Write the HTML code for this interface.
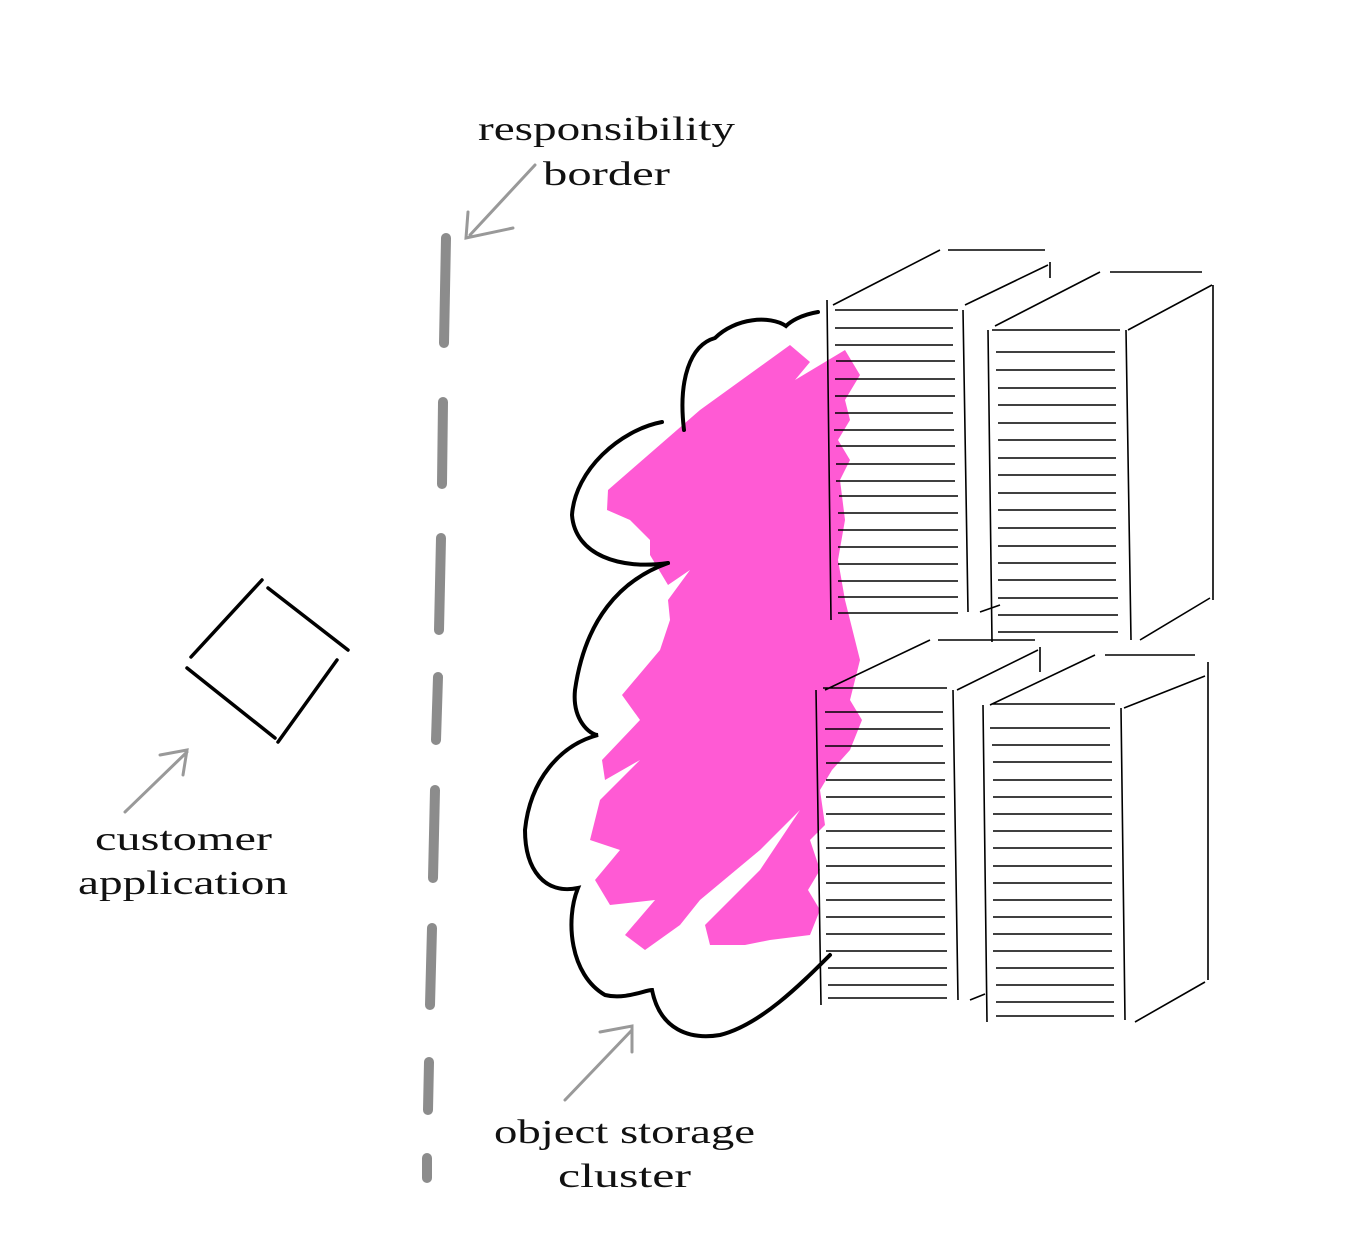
<!DOCTYPE html>
<html><head><meta charset="utf-8"><style>
html,body{margin:0;padding:0;background:#fff;}
svg{display:block;}
text{font-family:"Liberation Serif",serif;font-size:34px;fill:#111;}
</style></head><body>
<svg width="1352" height="1233" viewBox="0 0 1352 1233" xmlns="http://www.w3.org/2000/svg">
<rect width="1352" height="1233" fill="#fff"/>
<!-- pink blob -->
<polygon fill="#ff5ad4" points="608,490 700,410 790,345 810,362 795,380 845,350 860,375 845,400 850,420 838,440 850,460 840,480 845,520 838,560 845,600 855,640 860,660 850,700 862,720 850,750 832,770 820,790 825,825 810,840 820,870 808,890 820,910 810,935 770,940 745,945 710,945 705,925 760,870 800,810 760,850 700,900 680,925 645,950 625,935 655,900 610,905 595,880 620,850 590,840 600,800 640,760 605,780 602,760 640,720 622,695 660,650 670,620 668,600 690,570 668,585 650,555 650,540 630,520 607,510"/>
<!-- cloud outline -->
<g fill="none" stroke="#000" stroke-width="4" stroke-linecap="round">
<path d="M818,312 C800,315 790,322 786,326 C770,315 735,318 715,338 C690,345 678,380 684,430"/>
<path d="M662,422 C620,430 575,470 572,515 C575,555 620,570 668,563"/>
<path d="M668,563 C620,580 585,620 575,690 C572,720 590,735 598,735 C560,745 530,780 525,830 C525,870 545,895 578,888 C565,920 570,975 605,995 C625,1000 645,990 652,990 C660,1030 690,1040 720,1035 C760,1025 800,985 830,955"/>
</g>
<!-- responsibility border -->
<g stroke="#8c8c8c" stroke-width="10" stroke-linecap="round" fill="none">
<line x1="446" y1="238" x2="444" y2="343"/>
<line x1="443" y1="402" x2="442" y2="484"/>
<line x1="441" y1="538" x2="439" y2="630"/>
<line x1="438" y1="677" x2="436" y2="740"/>
<line x1="435" y1="790" x2="433" y2="878"/>
<line x1="432" y1="928" x2="430" y2="1005"/>
<line x1="429" y1="1062" x2="428" y2="1110"/>
<line x1="427" y1="1158" x2="427" y2="1178"/>
</g>
<!-- gray arrows -->
<g stroke="#999" stroke-width="3" fill="none" stroke-linecap="round">
<path d="M535,165 L470,235 M468,212 L466,238 L513,228"/>
<path d="M125,812 L187,752 M160,755 L187,750 L183,775"/>
<path d="M565,1100 L632,1030 M600,1032 L632,1026 L632,1052"/>
</g>
<!-- diamond -->
<g stroke="#000" stroke-width="3.5" stroke-linecap="round">
<line x1="262" y1="580" x2="191" y2="657"/>
<line x1="268" y1="588" x2="348" y2="650"/>
<line x1="187" y1="668" x2="275" y2="738"/>
<line x1="337" y1="660" x2="278" y2="742"/>
</g>
<!-- servers -->
<g stroke="#000" stroke-width="1.6" fill="none">
<!-- TL -->
<path d="M833,305 L940,250 M948,250 L1045,250 M1050,262 L1050,278 M965,305 L1048,265 M835,310 L958,310 M827,300 L831,620 M963,310 L968,612 M980,612 L1000,605"/>
<!-- TR -->
<path d="M995,326 L1100,272 M1110,272 L1202,272 M1128,330 L1212,285 M1213,285 L1213,600 M1140,640 L1210,598 M992,330 L1120,330 M988,330 L992,642 M1126,330 L1131,640"/>
<!-- BL -->
<path d="M825,690 L930,640 M938,640 L1035,640 M1040,647 L1040,672 M957,690 L1038,650 M823,688 L947,688 M816,690 L821,1005 M953,690 L958,1000 M970,1000 L985,994"/>
<!-- BR -->
<path d="M990,705 L1095,655 M1105,655 L1195,655 M1124,708 L1205,676 M1208,662 L1208,980 M1135,1022 L1205,982 M992,704 L1115,704 M983,705 L987,1022 M1121,708 L1125,1020"/>
</g>
<g stroke="#000" stroke-width="1.5">
<!-- TL lines -->
<line x1="835" y1="328" x2="953" y2="328"/><line x1="835" y1="345" x2="953" y2="345"/><line x1="836" y1="361" x2="955" y2="361"/>
<line x1="835" y1="379" x2="955" y2="379"/><line x1="835" y1="396" x2="955" y2="396"/><line x1="835" y1="413" x2="953" y2="413"/>
<line x1="834" y1="430" x2="954" y2="430"/><line x1="836" y1="446" x2="955" y2="446"/><line x1="836" y1="464" x2="955" y2="464"/>
<line x1="836" y1="481" x2="955" y2="481"/><line x1="839" y1="496" x2="958" y2="496"/><line x1="838" y1="513" x2="958" y2="513"/>
<line x1="838" y1="530" x2="958" y2="530"/><line x1="838" y1="547" x2="958" y2="547"/><line x1="838" y1="564" x2="958" y2="564"/>
<line x1="838" y1="581" x2="958" y2="581"/><line x1="838" y1="597" x2="958" y2="597"/><line x1="838" y1="613" x2="958" y2="613"/>
<!-- TR lines -->
<line x1="996" y1="352" x2="1115" y2="352"/><line x1="996" y1="370" x2="1115" y2="370"/><line x1="998" y1="388" x2="1116" y2="388"/>
<line x1="998" y1="405" x2="1116" y2="405"/><line x1="998" y1="423" x2="1116" y2="423"/><line x1="998" y1="440" x2="1116" y2="440"/>
<line x1="998" y1="458" x2="1116" y2="458"/><line x1="998" y1="475" x2="1116" y2="475"/><line x1="998" y1="493" x2="1116" y2="493"/>
<line x1="998" y1="510" x2="1116" y2="510"/><line x1="998" y1="528" x2="1116" y2="528"/><line x1="998" y1="546" x2="1116" y2="546"/>
<line x1="998" y1="563" x2="1116" y2="563"/><line x1="998" y1="580" x2="1116" y2="580"/><line x1="998" y1="598" x2="1118" y2="598"/>
<line x1="998" y1="615" x2="1118" y2="615"/><line x1="998" y1="632" x2="1118" y2="632"/>
<!-- BL lines -->
<line x1="825" y1="712" x2="943" y2="712"/><line x1="825" y1="729" x2="943" y2="729"/><line x1="825" y1="746" x2="943" y2="746"/>
<line x1="826" y1="763" x2="945" y2="763"/><line x1="826" y1="780" x2="945" y2="780"/><line x1="826" y1="797" x2="945" y2="797"/>
<line x1="826" y1="814" x2="945" y2="814"/><line x1="826" y1="831" x2="945" y2="831"/><line x1="826" y1="848" x2="945" y2="848"/>
<line x1="826" y1="866" x2="945" y2="866"/><line x1="826" y1="883" x2="945" y2="883"/><line x1="826" y1="900" x2="945" y2="900"/>
<line x1="826" y1="917" x2="945" y2="917"/><line x1="826" y1="934" x2="945" y2="934"/><line x1="826" y1="951" x2="947" y2="951"/>
<line x1="828" y1="968" x2="947" y2="968"/><line x1="828" y1="985" x2="947" y2="985"/><line x1="828" y1="998" x2="947" y2="998"/>
<!-- BR lines -->
<line x1="990" y1="728" x2="1110" y2="728"/><line x1="992" y1="745" x2="1110" y2="745"/><line x1="993" y1="762" x2="1112" y2="762"/>
<line x1="993" y1="780" x2="1112" y2="780"/><line x1="993" y1="797" x2="1112" y2="797"/><line x1="993" y1="814" x2="1112" y2="814"/>
<line x1="993" y1="831" x2="1112" y2="831"/><line x1="993" y1="848" x2="1112" y2="848"/><line x1="993" y1="866" x2="1112" y2="866"/>
<line x1="993" y1="883" x2="1112" y2="883"/><line x1="993" y1="900" x2="1112" y2="900"/><line x1="993" y1="917" x2="1112" y2="917"/>
<line x1="993" y1="934" x2="1112" y2="934"/><line x1="993" y1="951" x2="1112" y2="951"/><line x1="996" y1="968" x2="1114" y2="968"/>
<line x1="996" y1="985" x2="1114" y2="985"/><line x1="996" y1="1002" x2="1114" y2="1002"/><line x1="996" y1="1016" x2="1114" y2="1016"/>
</g>
<!-- labels -->
<text x="478" y="140" textLength="257" lengthAdjust="spacingAndGlyphs">responsibility</text>
<text x="543" y="185" textLength="127" lengthAdjust="spacingAndGlyphs">border</text>
<text x="95" y="850" textLength="177" lengthAdjust="spacingAndGlyphs">customer</text>
<text x="78" y="894" textLength="210" lengthAdjust="spacingAndGlyphs">application</text>
<text x="494" y="1143" textLength="261" lengthAdjust="spacingAndGlyphs">object storage</text>
<text x="558" y="1187" textLength="133" lengthAdjust="spacingAndGlyphs">cluster</text>
</svg>
</body></html>
